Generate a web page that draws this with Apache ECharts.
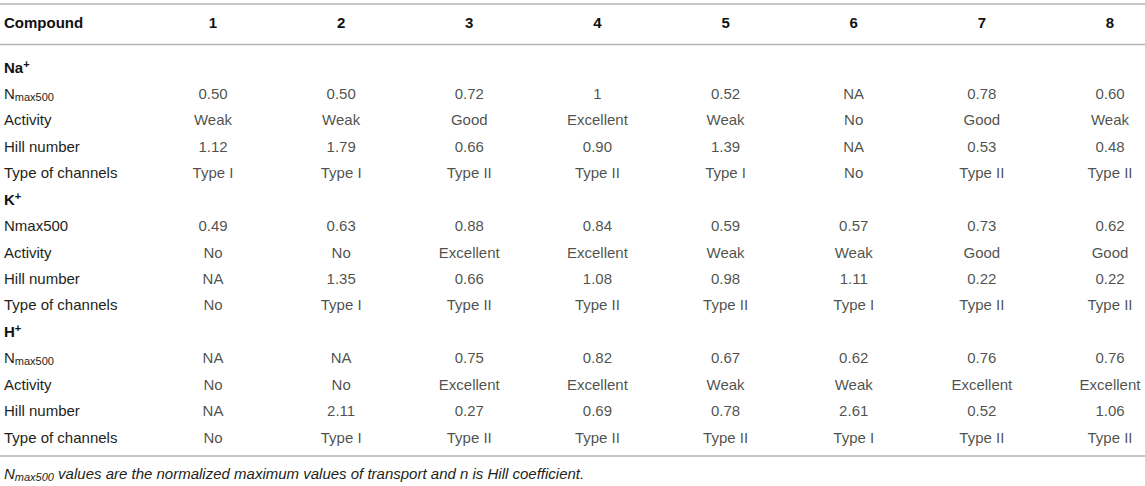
<!DOCTYPE html>
<html>
<head>
<meta charset="utf-8">
<script src="https://cdn.jsdelivr.net/npm/echarts@6/dist/echarts.min.js"></script>
<style>
html,body{margin:0;padding:0;background:#fff;}
#chart{width:1145px;height:486px;}
</style>
</head>
<body>
<div id="chart"></div>
<script>
// ---- data ----
const compounds = ['1', '2', '3', '4', '5', '6', '7', '8'];
const headerLabel = 'Compound';
const ions = ['Na', 'K', 'H'];
const rowNames = ['Nmax500', 'Activity', 'Hill number', 'Type of channels'];

const naNmax     = ['0.50', '0.50', '0.72', '1', '0.52', 'NA', '0.78', '0.60'];
const naActivity = ['Weak', 'Weak', 'Good', 'Excellent', 'Weak', 'No', 'Good', 'Weak'];
const naHill     = ['1.12', '1.79', '0.66', '0.90', '1.39', 'NA', '0.53', '0.48'];
const naType     = ['Type I', 'Type I', 'Type II', 'Type II', 'Type I', 'No', 'Type II', 'Type II'];

const kNmax      = ['0.49', '0.63', '0.88', '0.84', '0.59', '0.57', '0.73', '0.62'];
const kActivity  = ['No', 'No', 'Excellent', 'Excellent', 'Weak', 'Weak', 'Good', 'Good'];
const kHill      = ['NA', '1.35', '0.66', '1.08', '0.98', '1.11', '0.22', '0.22'];
const kType      = ['No', 'Type I', 'Type II', 'Type II', 'Type II', 'Type I', 'Type II', 'Type II'];

const hNmax      = ['NA', 'NA', '0.75', '0.82', '0.67', '0.62', '0.76', '0.76'];
const hActivity  = ['No', 'No', 'Excellent', 'Excellent', 'Weak', 'Weak', 'Excellent', 'Excellent'];
const hHill      = ['NA', '2.11', '0.27', '0.69', '0.78', '2.61', '0.52', '1.06'];
const hType      = ['No', 'Type I', 'Type II', 'Type II', 'Type II', 'Type I', 'Type II', 'Type II'];

const footnote = ' values are the normalized maximum values of transport and n is Hill coefficient.';

// ---- build table ----
const sections = [
  { ion: ions[0], subNmax: true,  rows: [naNmax, naActivity, naHill, naType] },
  { ion: ions[1], subNmax: false, rows: [kNmax, kActivity, kHill, kType] },
  { ion: ions[2], subNmax: true,  rows: [hNmax, hActivity, hHill, hType] }
];

const yCats = [];
const yLabelText = {};
const cells = [];
sections.forEach((sec, si) => {
  const secKey = 's' + si;
  yCats.push(secKey);
  yLabelText[secKey] = '{b|' + sec.ion + '}{sup|+}';
  sec.rows.forEach((vals, ri) => {
    const key = 'r' + si + '_' + ri;
    const rowIdx = yCats.length;
    yCats.push(key);
    if (ri === 0 && sec.subNmax) {
      yLabelText[key] = '{n|N}{sub|max500}';
    } else {
      yLabelText[key] = '{n|' + rowNames[ri] + '}';
    }
    vals.forEach((v, ci) => cells.push([ci, rowIdx, v]));
  });
});

const FONT = '"Liberation Sans", Arial, Helvetica, sans-serif';
const TXT = '#231f20';

const chart = echarts.init(document.getElementById('chart'), null, { renderer: 'svg' });
chart.setOption({
  backgroundColor: '#ffffff',
  animation: false,
  textStyle: { fontFamily: FONT },
  title: {
    text: '{n|N}{sub|max500}{t|' + footnote + '}',
    left: 4,
    top: 464,
    padding: 0,
    textStyle: {
      fontWeight: 'normal',
      rich: {
        n: { fontFamily: FONT, fontStyle: 'italic', fontWeight: 'normal', fontSize: 15, color: TXT, lineHeight: 18, verticalAlign: 'middle' },
        sub: { fontFamily: FONT, fontStyle: 'italic', fontWeight: 'normal', fontSize: 11, color: TXT, lineHeight: 11, verticalAlign: 'bottom' },
        t: { fontFamily: FONT, fontStyle: 'italic', fontWeight: 'normal', fontSize: 15, color: TXT, lineHeight: 18, verticalAlign: 'middle' }
      }
    }
  },
  grid: { left: 213, right: 35, top: 67, bottom: 49 },
  xAxis: {
    type: 'category',
    position: 'top',
    data: compounds,
    boundaryGap: false,
    axisLine: { show: false },
    axisTick: { show: false },
    splitLine: { show: false },
    axisLabel: {
      margin: 37,
      fontFamily: FONT,
      fontSize: 15,
      fontWeight: 'bold',
      color: '#111'
    }
  },
  yAxis: {
    type: 'category',
    data: yCats,
    inverse: true,
    boundaryGap: false,
    axisLine: { show: false },
    axisTick: { show: false },
    splitLine: { show: false },
    axisLabel: {
      align: 'left',
      margin: 209,
      interval: 0,
      formatter: (v) => yLabelText[v],
      rich: {
        b: { fontFamily: FONT, fontSize: 15, fontWeight: 'bold', color: '#111', lineHeight: 18, verticalAlign: 'middle' },
        sup: { fontFamily: FONT, fontSize: 11, fontWeight: 'bold', color: '#111', lineHeight: 10, verticalAlign: 'top' },
        n: { fontFamily: FONT, fontSize: 15, color: TXT, lineHeight: 18, verticalAlign: 'middle' },
        sub: { fontFamily: FONT, fontSize: 11, color: TXT, lineHeight: 10, verticalAlign: 'bottom' }
      }
    }
  },
  graphic: [
    { type: 'line', shape: { x1: 0, y1: 4, x2: 1145, y2: 4 }, style: { stroke: '#b5b5b5', lineWidth: 1.5 } },
    { type: 'line', shape: { x1: 0, y1: 44.5, x2: 1145, y2: 44.5 }, style: { stroke: '#b5b5b5', lineWidth: 1.5 } },
    { type: 'line', shape: { x1: 0, y1: 456, x2: 1145, y2: 456 }, style: { stroke: '#b5b5b5', lineWidth: 1.5 } },
    { type: 'text', left: 4, top: 15, style: { text: headerLabel, font: 'bold 15px ' + FONT, fill: '#111' } }
  ],
  series: [{
    type: 'scatter',
    data: cells,
    symbolSize: 0,
    silent: true,
    label: {
      show: true,
      position: 'inside',
      formatter: (p) => p.data[2],
      fontFamily: FONT,
      fontSize: 15,
      color: TXT
    }
  }]
});
</script>
</body>
</html>
